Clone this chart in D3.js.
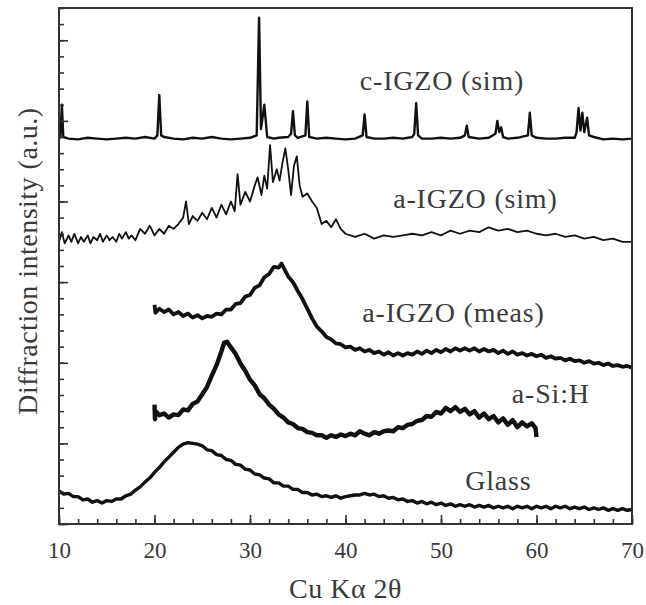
<!DOCTYPE html>
<html>
<head>
<meta charset="utf-8">
<script src="https://cdn.jsdelivr.net/npm/d3@7"></script>
<style>
  body { margin: 0; background: #fff; }
  svg text { font-family: "Liberation Serif", "DejaVu Serif", serif; fill: #3a3a3a; }
</style>
</head>
<body>
<div id="chart"></div>
<script>
// x tick labels
var xTicks = [10, 20, 30, 40, 50, 60, 70];

// series as [2theta, offset intensity]
var cIgzoSim = [[10,23.9],[10.15,24.0],[10.3,26.0],[10.45,24.0],[11,23.9],[12,23.85],[13,23.95],[14,23.9],[15,23.85],[16,23.9],[17,23.95],[18,23.9],[19,24.0],[20,23.9],[20.3,24.1],[20.5,26.6],[20.7,24.1],[21,24.0],[22,23.9],[23,23.85],[24,23.95],[25,23.9],[26,24.0],[27,23.9],[28,23.85],[29,23.9],[30,23.95],[30.7,24.1],[30.95,31.4],[31.15,24.5],[31.5,26.0],[31.8,24.0],[32.5,23.9],[33,23.95],[34,24.0],[34.3,24.2],[34.5,25.6],[34.7,24.1],[35,23.95],[35.8,24.1],[36.0,26.2],[36.2,24.0],[37,23.9],[38,23.95],[39,23.9],[40,23.85],[41,23.9],[41.8,24.1],[42.0,25.4],[42.2,24.0],[43,23.9],[44,23.9],[45,23.95],[46,23.9],[47,24.0],[47.2,24.2],[47.4,26.1],[47.6,24.1],[48,23.9],[49,23.9],[50,23.95],[51,23.9],[52,23.95],[52.5,24.1],[52.7,24.7],[52.9,24.0],[54,23.9],[55,23.95],[55.7,24.2],[55.9,25.0],[56.1,24.3],[56.3,24.6],[56.5,24.0],[57,23.9],[58,23.95],[59.1,24.1],[59.3,25.5],[59.5,24.1],[60,23.95],[61,23.9],[62,23.9],[63,23.95],[64,23.95],[64.2,24.3],[64.4,25.8],[64.6,24.4],[64.8,25.5],[65.0,24.3],[65.3,25.2],[65.5,24.1],[66,24.0],[67,23.85],[68,23.9],[69,23.85],[70,23.9]];

var aIgzoSim = [[10,17.5],[10.3,18.1],[10.6,17.4],[11,17.9],[11.3,17.5],[11.6,18.0],[12,17.4],[12.3,17.8],[12.6,17.5],[13,17.9],[13.3,17.4],[13.6,17.8],[14,17.6],[14.3,18.0],[14.6,17.5],[15,17.9],[15.3,17.6],[15.6,17.8],[16,17.5],[16.3,18.0],[16.6,17.7],[17,18.1],[17.3,17.7],[17.6,17.9],[18,17.6],[18.5,18.3],[19,18.0],[19.5,18.5],[20,17.9],[20.5,18.3],[21,18.0],[21.5,18.5],[22,18.3],[22.5,18.6],[23,19.0],[23.3,20.0],[23.6,18.6],[24,19.1],[24.5,18.8],[25,19.3],[25.5,18.9],[26,19.6],[26.5,19.0],[27,19.8],[27.5,19.2],[28,20.0],[28.4,19.4],[28.7,21.7],[29,19.8],[29.5,20.6],[30,20.0],[30.5,21.0],[30.8,21.5],[31.2,20.4],[31.5,21.6],[31.8,20.8],[32.1,23.5],[32.4,21.2],[32.8,22.0],[33.1,21.3],[33.4,22.4],[33.7,23.3],[34.0,22.0],[34.3,20.4],[34.6,22.2],[34.9,22.8],[35.2,21.0],[35.5,20.3],[36,20.5],[36.5,20.0],[37,19.6],[37.5,18.6],[38,18.8],[38.5,18.4],[39,18.9],[39.5,18.3],[40,18.0],[41,17.8],[42,18.0],[43,17.7],[44,17.9],[45,17.8],[46,17.9],[47,18.0],[48,17.9],[49,18.1],[50,17.9],[51,18.2],[52,18.0],[53,18.2],[54,18.1],[55,18.4],[56,18.2],[57,18.3],[58,18.1],[59,18.2],[60,18.0],[61,17.9],[62,18.0],[63,17.8],[64,17.9],[65,17.7],[66,17.8],[67,17.6],[68,17.7],[69,17.5],[70,17.5]];

var aIgzoMeas = [[20,13.6],[20.1,13.1],[20.5,13.35],[21,13.15],[21.5,13.3],[22,13.0],[22.5,13.15],[23,12.9],[23.5,13.05],[24,12.8],[24.5,12.95],[25,12.75],[25.5,12.9],[26,12.85],[26.5,13.05],[27,13.0],[27.5,13.3],[28,13.3],[28.5,13.65],[29,13.7],[29.5,14.1],[30,14.2],[30.5,14.65],[31,14.8],[31.5,15.3],[32,15.5],[32.5,15.95],[33,15.9],[33.3,16.15],[33.6,15.8],[34,15.35],[34.5,15.0],[35,14.45],[35.5,13.95],[36,13.35],[36.5,12.75],[37,12.25],[37.5,11.95],[38,11.6],[38.5,11.45],[39,11.2],[39.5,11.15],[40,10.95],[40.5,11.0],[41,10.8],[41.5,10.9],[42,10.7],[42.5,10.8],[43,10.6],[43.5,10.7],[44,10.5],[44.5,10.65],[45,10.45],[45.5,10.6],[46,10.45],[46.5,10.6],[47,10.5],[47.5,10.7],[48,10.55],[48.5,10.75],[49,10.6],[49.5,10.8],[50,10.65],[50.5,10.85],[51,10.7],[51.5,10.9],[52,10.75],[52.5,10.9],[53,10.75],[53.5,10.9],[54,10.7],[54.5,10.85],[55,10.7],[55.5,10.8],[56,10.6],[56.5,10.75],[57,10.55],[57.5,10.7],[58,10.5],[58.5,10.6],[59,10.45],[59.5,10.55],[60,10.4],[60.5,10.5],[61,10.3],[61.5,10.4],[62,10.25],[62.5,10.3],[63,10.15],[63.5,10.25],[64,10.1],[64.5,10.15],[65,10.0],[65.5,10.1],[66,9.95],[66.5,10.0],[67,9.85],[67.5,9.95],[68,9.8],[68.5,9.85],[69,9.75],[69.5,9.8],[70,9.7]];

var aSiH = [[20,7.4],[20.05,6.5],[20.1,7.0],[20.5,6.75],[21,6.85],[21.5,6.6],[22,6.8],[22.5,6.75],[23,7.1],[23.5,7.05],[24,7.45],[24.5,7.6],[25,8.05],[25.5,8.5],[26,9.2],[26.5,9.85],[27,10.7],[27.3,11.25],[27.6,11.3],[28,10.95],[28.5,10.55],[29,9.95],[29.5,9.5],[30,8.95],[30.5,8.6],[31,8.05],[31.5,7.8],[32,7.4],[32.5,7.15],[33,6.8],[33.5,6.6],[34,6.3],[34.5,6.2],[35,5.95],[35.5,5.9],[36,5.7],[36.5,5.65],[37,5.5],[37.5,5.5],[38,5.35],[38.5,5.5],[39,5.4],[39.5,5.55],[40,5.45],[40.5,5.6],[41,5.5],[41.5,5.75],[42,5.6],[42.5,5.5],[43,5.7],[43.5,5.6],[44,5.75],[44.5,5.8],[45,5.75],[45.5,6.0],[46,5.95],[46.5,6.15],[47,6.2],[47.5,6.4],[48,6.45],[48.5,6.7],[49,6.65],[49.5,6.95],[50,6.85],[50.5,7.2],[51,7.0],[51.5,7.25],[52,6.95],[52.5,7.15],[53,6.8],[53.5,7.0],[54,6.6],[54.5,6.85],[55,6.5],[55.5,6.7],[56,6.3],[56.5,6.55],[57,6.15],[57.5,6.45],[58,6.0],[58.5,6.3],[59,6.05],[59.5,6.25],[59.9,5.95],[60,5.4]];

var glass = [[10,2.05],[10.5,1.85],[11,1.9],[11.5,1.7],[12,1.7],[12.5,1.5],[13,1.55],[13.5,1.35],[14,1.45],[14.5,1.3],[15,1.45],[15.5,1.4],[16,1.55],[16.5,1.55],[17,1.75],[17.5,1.85],[18,2.1],[18.5,2.3],[19,2.6],[19.5,2.85],[20,3.2],[20.5,3.5],[21,3.85],[21.5,4.15],[22,4.45],[22.5,4.75],[23,4.95],[23.5,5.05],[24,5.0],[24.5,4.95],[25,4.85],[25.5,4.6],[26,4.55],[26.5,4.3],[27,4.25],[27.5,4.0],[28,3.95],[28.5,3.7],[29,3.65],[29.5,3.4],[30,3.35],[30.5,3.1],[31,3.05],[31.5,2.85],[32,2.8],[32.5,2.55],[33,2.55],[33.5,2.35],[34,2.35],[34.5,2.15],[35,2.15],[35.5,1.95],[36,1.95],[36.5,1.8],[37,1.85],[37.5,1.7],[38,1.75],[38.5,1.65],[39,1.75],[39.5,1.6],[40,1.7],[40.5,1.75],[41,1.8],[41.5,1.8],[42,1.9],[42.5,1.8],[43,1.85],[43.5,1.7],[44,1.75],[44.5,1.6],[45,1.65],[45.5,1.5],[46,1.55],[46.5,1.4],[47,1.45],[47.5,1.3],[48,1.4],[48.5,1.25],[49,1.35],[49.5,1.2],[50,1.3],[50.5,1.15],[51,1.25],[51.5,1.1],[52,1.2],[52.5,1.1],[53,1.2],[53.5,1.05],[54,1.15],[54.5,1.05],[55,1.15],[55.5,1.0],[56,1.1],[56.5,1.0],[57,1.1],[57.5,0.95],[58,1.1],[58.5,1.0],[59,1.1],[59.5,0.95],[60,1.1],[60.5,1.0],[61,1.1],[61.5,0.95],[62,1.1],[62.5,1.0],[63,1.1],[63.5,0.95],[64,1.05],[64.5,0.95],[65,1.05],[65.5,0.9],[66,1.0],[66.5,0.9],[67,1.0],[67.5,0.85],[68,0.95],[68.5,0.85],[69,0.95],[69.5,0.85],[70,0.9]];

var seriesNames = ["c-IGZO (sim)", "a-IGZO (sim)", "a-IGZO (meas)", "a-Si:H", "Glass"];
// label anchor (centre x, baseline y) in data units
var labelX = [50.1, 53.6, 51.3, 61.5, 56.0];
var labelY = [26.9, 19.6, 12.5, 7.5, 2.1];

var serif = "Liberation Serif, DejaVu Serif, serif";
var width = 646, height = 605;
var margin = { left: 59, right: 14, top: 8, bottom: 81 };

var x = d3.scaleLinear().domain([10, 70]).range([margin.left, width - margin.right]);
var y = d3.scaleLinear().domain([0, 32]).range([height - margin.bottom, margin.top]);

var svg = d3.select("#chart").append("svg")
    .attr("width", width)
    .attr("height", height);

var line = d3.line()
    .x(function (d) { return x(d[0]); })
    .y(function (d) { return y(d[1]); });

// curves
var curves = [
    { data: cIgzoSim, w: 2.4 },
    { data: aIgzoSim, w: 1.8 },
    { data: aIgzoMeas, w: 3.8 },
    { data: aSiH, w: 4.4 },
    { data: glass, w: 3.4 }
];

svg.selectAll(".curve")
    .data(curves)
    .enter().append("path")
    .attr("class", "curve")
    .attr("d", function (d) { return line(d.data); })
    .attr("fill", "none")
    .attr("stroke", "#111")
    .attr("stroke-width", function (d) { return d.w; })
    .attr("stroke-linejoin", "round");

// bottom axis: minor ticks every 2, major every 10, pointing inward
svg.append("g")
    .attr("class", "tick-minor")
    .attr("transform", "translate(0," + y(0) + ")")
    .call(d3.axisBottom(x).tickValues(d3.range(10, 71, 2)).tickSize(-5).tickFormat(""));

svg.append("g")
    .attr("class", "tick-major")
    .attr("transform", "translate(0," + y(0) + ")")
    .call(d3.axisBottom(x).tickValues(xTicks).tickSize(-9).tickPadding(18).tickFormat(d3.format("d")));

// left axis: unlabeled ticks
svg.append("g")
    .attr("class", "tick-minor")
    .attr("transform", "translate(" + x(10) + ",0)")
    .call(d3.axisLeft(y).tickValues(d3.range(0, 33, 1)).tickSize(-5).tickFormat(""));

svg.append("g")
    .attr("class", "tick-major")
    .attr("transform", "translate(" + x(10) + ",0)")
    .call(d3.axisLeft(y).tickValues(d3.range(0, 33, 5)).tickSize(-9).tickFormat(""));

svg.selectAll(".tick-minor .domain, .tick-major .domain").remove();
svg.selectAll(".tick-minor line, .tick-major line").attr("stroke", "#333").attr("stroke-width", 1.6);
svg.selectAll(".tick-major text")
    .attr("font-family", serif)
    .style("font-family", serif)
    .style("font-size", "23px")
    .attr("fill", "#3a3a3a");

// frame
svg.append("rect")
    .attr("x", x(10)).attr("y", y(32))
    .attr("width", x(70) - x(10)).attr("height", y(0) - y(32))
    .attr("fill", "none")
    .attr("stroke", "#333")
    .attr("stroke-width", 2);

// series labels
svg.selectAll(".lab")
    .data(seriesNames)
    .enter().append("text")
    .attr("class", "lab")
    .attr("x", function (d, i) { return x(labelX[i]); })
    .attr("y", function (d, i) { return y(labelY[i]); })
    .attr("text-anchor", "middle")
    .style("font-size", "28px")
    .style("letter-spacing", "0.8px")
    .text(function (d) { return d; });

// axis titles
svg.append("text")
    .attr("x", (x(10) + x(70)) / 2)
    .attr("y", 598)
    .attr("text-anchor", "middle")
    .style("font-size", "28px")
    .style("letter-spacing", "0.5px")
    .text("Cu Kα 2θ");

svg.append("text")
    .attr("transform", "translate(37,261) rotate(-90)")
    .attr("text-anchor", "middle")
    .style("font-size", "28px")
    .style("letter-spacing", "0.5px")
    .text("Diffraction intensity (a.u.)");
</script>
</body>
</html>
